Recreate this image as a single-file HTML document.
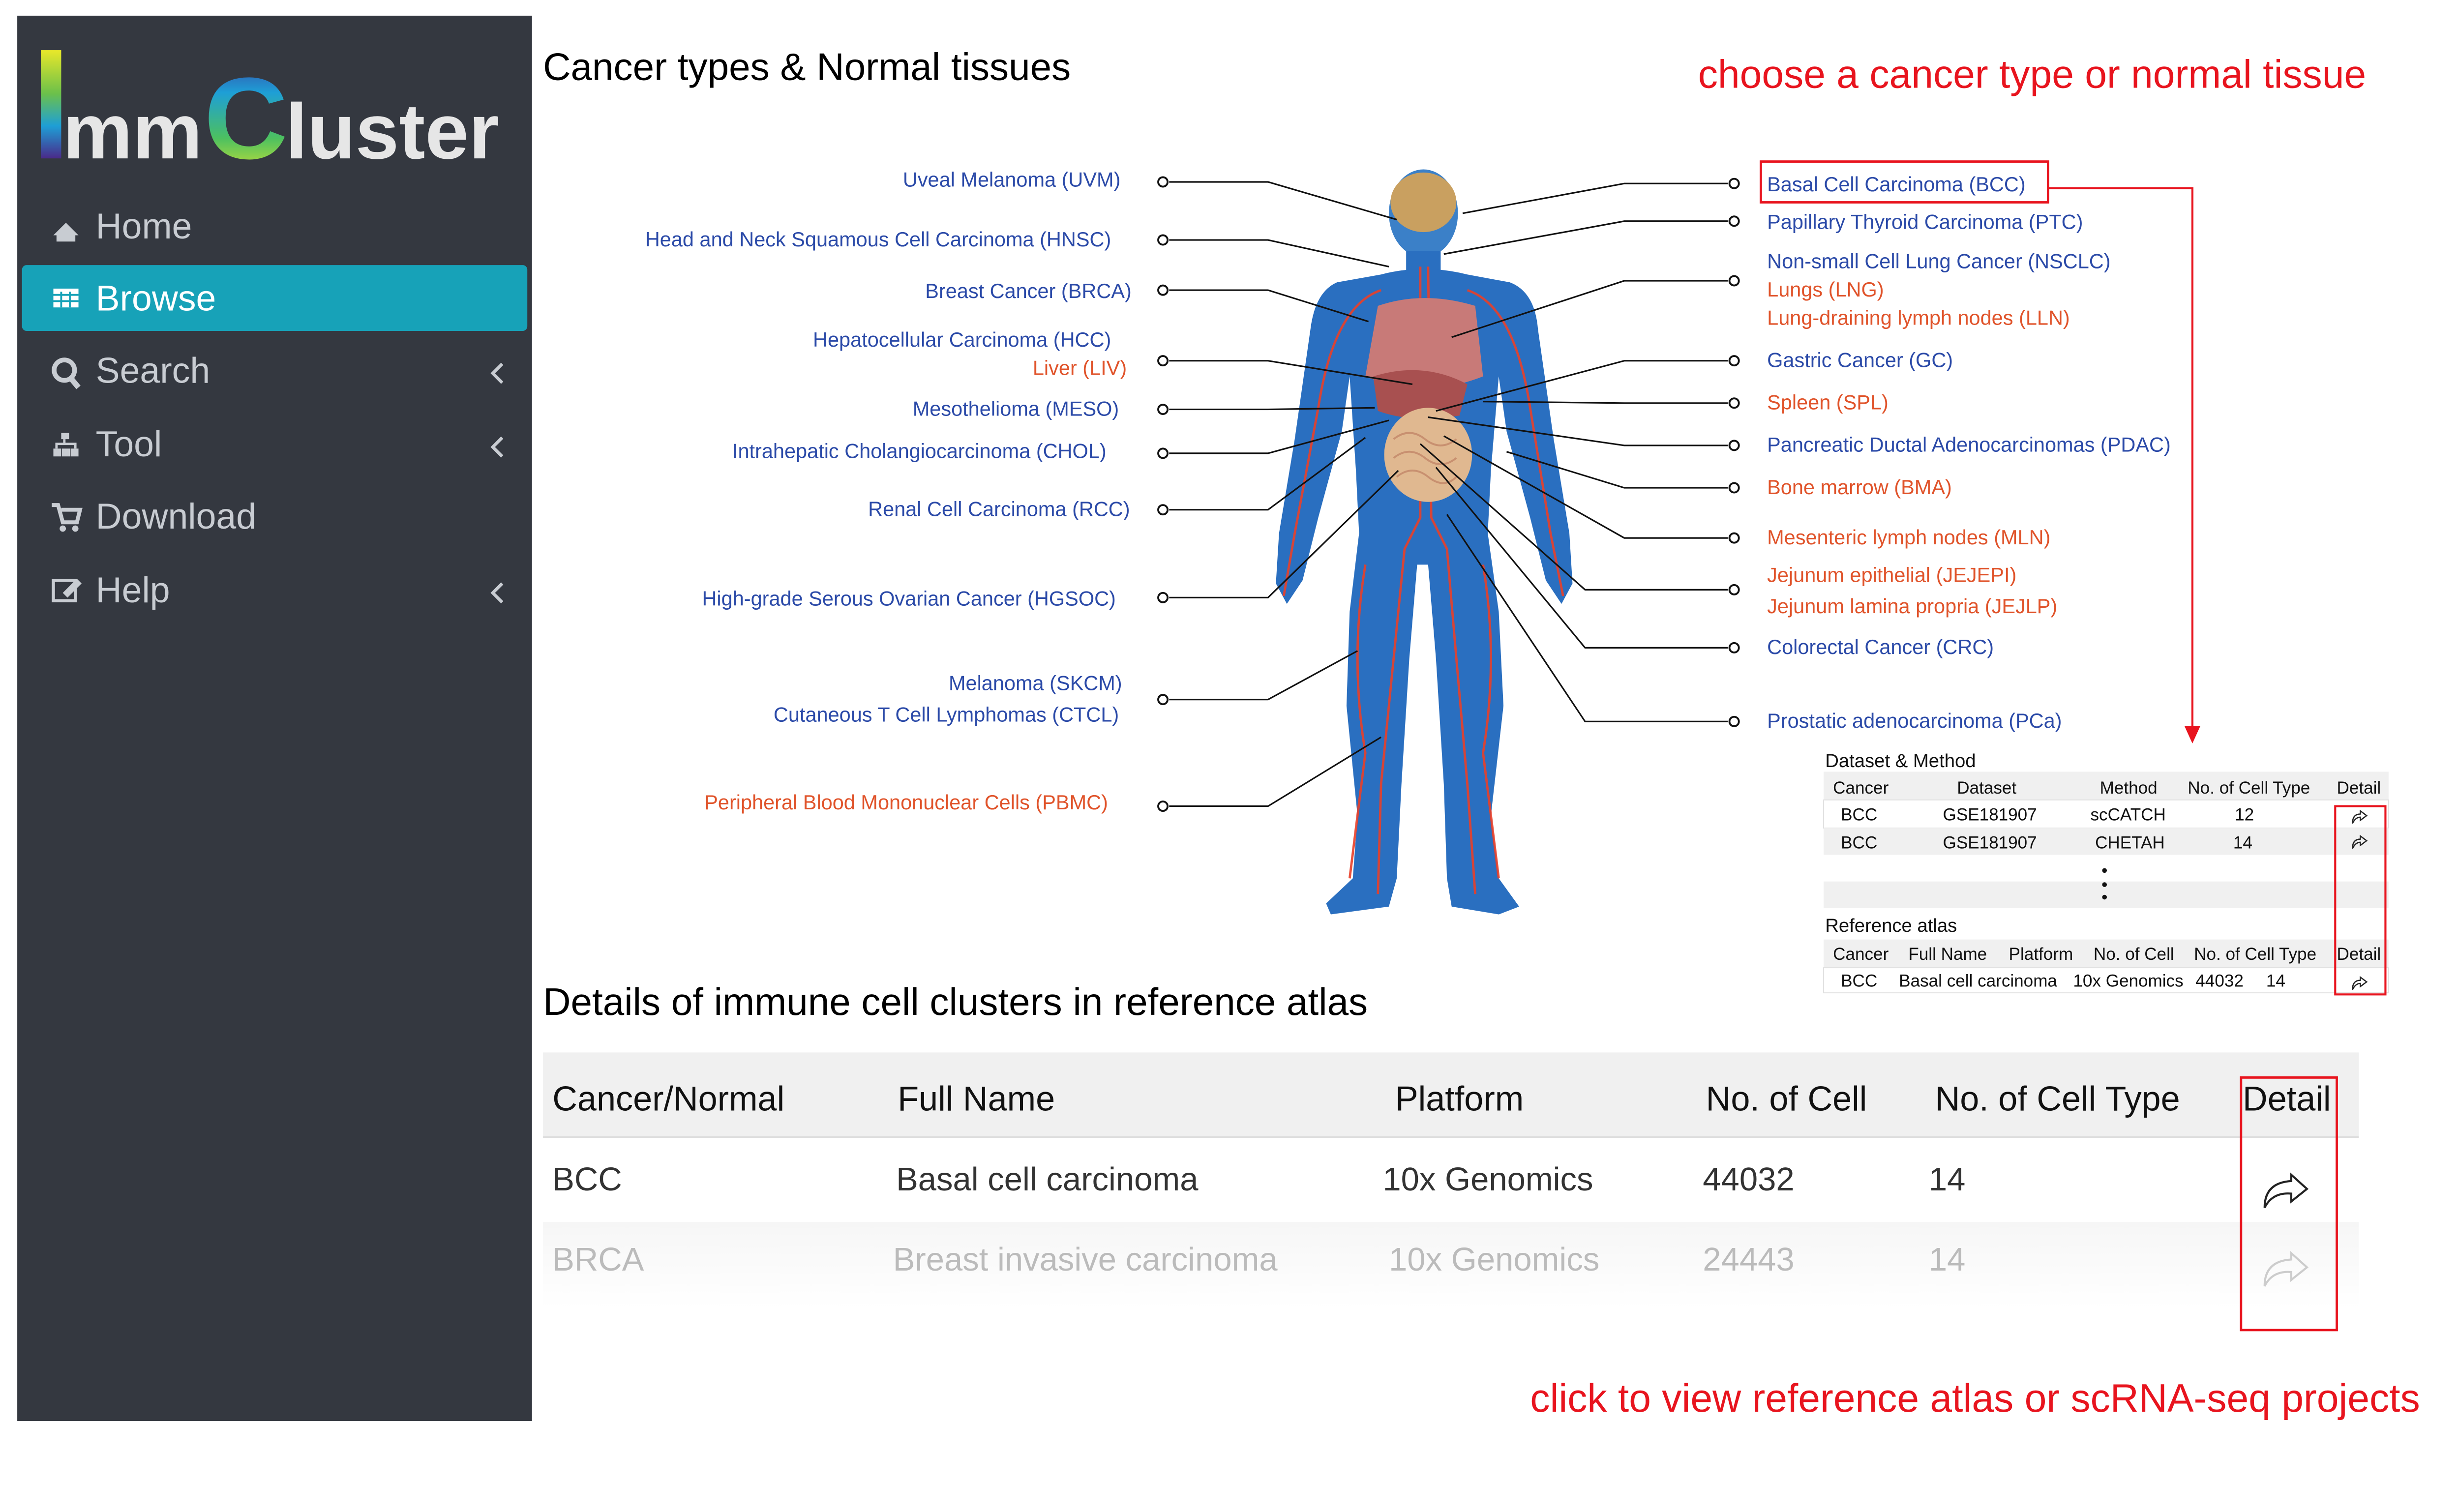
<!DOCTYPE html>
<html><head><meta charset="utf-8"><style>
html,body{margin:0;padding:0;background:#fff;}
svg{display:block;}
text{font-family:"Liberation Sans",Arial,sans-serif;}
</style></head><body>
<svg width="5144" height="3075" viewBox="0 0 1612 964" preserveAspectRatio="none" xmlns="http://www.w3.org/2000/svg">
<rect width="1612" height="964" fill="#fff"/>
<rect x="11" y="10" width="328" height="896" fill="#343840"/>
<defs>
<linearGradient id="gI" x1="0" y1="0" x2="0" y2="1"><stop offset="0" stop-color="#e8e82a"/><stop offset="0.4" stop-color="#6cc04a"/><stop offset="0.7" stop-color="#1e9fd6"/><stop offset="1" stop-color="#4a2a8a"/></linearGradient>
<linearGradient id="gC" x1="0" y1="0" x2="0" y2="1"><stop offset="0" stop-color="#3a3aa0"/><stop offset="0.3" stop-color="#1e9fd6"/><stop offset="0.65" stop-color="#4cc060"/><stop offset="1" stop-color="#e8e82a"/></linearGradient>
<linearGradient id="fade" x1="0" y1="0" x2="0" y2="1"><stop offset="0" stop-color="#f6f6f6"/><stop offset="1" stop-color="#fff"/></linearGradient>
</defs>
<rect x="26" y="32" width="13" height="69" fill="url(#gI)"/>
<text x="40" y="101" font-size="50" font-weight="bold" fill="#e6e6e6">mm</text>
<text x="130" y="101" font-size="74" font-weight="bold" fill="url(#gC)">C</text>
<text x="182" y="101" font-size="50" font-weight="bold" fill="#e6e6e6">luster</text>
<rect x="14" y="169" width="322" height="42" rx="3" fill="#17a2b8"/>
<g font-size="23" fill="#c8ccd2">
<text x="61" y="152">Home</text>
<text x="61" y="198" fill="#fff">Browse</text>
<text x="61" y="244">Search</text>
<text x="61" y="291">Tool</text>
<text x="61" y="337">Download</text>
<text x="61" y="384">Help</text>
</g>
<g fill="#c8ccd2">
<path d="M34 150 L42 142 L50 150 L48 150 L48 154 L36 154 L36 150Z"/>
<rect x="34" y="184" width="16" height="12" fill="#fff"/>
<g stroke="#17a2b8" stroke-width="1.2"><line x1="34" y1="188" x2="50" y2="188"/><line x1="34" y1="192" x2="50" y2="192"/><line x1="39" y1="186" x2="39" y2="196"/><line x1="44.5" y1="186" x2="44.5" y2="196"/></g>
<circle cx="41" cy="236" r="6.5" fill="none" stroke="#c8ccd2" stroke-width="3"/><line x1="45" y1="241" x2="50" y2="247" stroke="#c8ccd2" stroke-width="3.5"/>
<rect x="39" y="276" width="5" height="4"/><rect x="34" y="286" width="5" height="5"/><rect x="39.5" y="286" width="5" height="5"/><rect x="45" y="286" width="5" height="5"/><path d="M41 280v3M36 286v-3h12v3" stroke="#c8ccd2" fill="none" stroke-width="1.5"/>
<path d="M33 322h4l3 11h9l2-8h-12" fill="none" stroke="#c8ccd2" stroke-width="2.5"/><circle cx="40" cy="337" r="2"/><circle cx="48" cy="337" r="2"/>
<rect x="34" y="370" width="14" height="13" fill="none" stroke="#c8ccd2" stroke-width="2"/><path d="M40 378 L49 369 L52 372 L43 381Z"/>
</g>
<g fill="none" stroke="#c8ccd2" stroke-width="2"><path d="M320 232l-6 6 6 6"/><path d="M320 279l-6 6 6 6"/><path d="M320 372l-6 6 6 6"/></g>

<text x="346" y="51" font-size="24.5" fill="#000">Cancer types &amp; Normal tissues</text>
<text x="1082" y="56" font-size="25.2" fill="#e8141e">choose a cancer type or normal tissue</text>
<text x="346" y="647" font-size="24.5" fill="#000">Details of immune cell clusters in reference atlas</text>
<text x="975" y="900" font-size="25.2" fill="#e8141e">click to view reference atlas or scRNA-seq projects</text>

<g fill="#2a6fc0">
<ellipse cx="907" cy="136" rx="22" ry="28" fill="#3b80c8"/>
<rect x="896" y="160" width="22" height="20"/>
<path d="M880 175 Q907 168 935 175 L962 180 Q978 186 980 210 L990 280 L1000 340 L1002 372 L995 385 L985 370 L975 330 L960 275 L955 240 L950 300 L948 340 L955 390 L958 450 L950 520 L955 560 L968 578 L955 583 L925 578 L922 560 L920 500 L915 420 L910 360 L903 360 L898 420 L893 500 L890 560 L885 578 L848 583 L845 576 L862 560 L865 520 L858 450 L860 390 L866 340 L864 300 L860 240 L855 275 L840 330 L830 370 L820 385 L813 372 L815 340 L825 280 L835 210 Q838 186 852 180Z"/>
</g>
<g fill="none" stroke="#e8402a" stroke-width="1.5" opacity="0.9">
<path d="M905 170 L905 330 L895 350 L888 420 L880 500 L878 570"/>
<path d="M910 170 L912 330 L922 350 L928 420 L935 500 L940 570"/>
<path d="M880 185 Q850 195 840 260 L825 340 L818 380"/>
<path d="M935 185 Q965 195 975 260 L988 340 L996 380"/>
<path d="M870 360 Q860 420 870 480 L860 560"/><path d="M945 360 Q955 420 945 480 L955 560"/>
</g>
<ellipse cx="907" cy="129" rx="21" ry="19" fill="#c9a060"/>
<path d="M878 195 Q907 185 940 195 L945 240 Q907 255 870 240Z" fill="#c87a78"/>
<path d="M875 240 Q907 230 935 245 L930 265 Q900 270 878 262Z" fill="#a85050"/>
<ellipse cx="910" cy="290" rx="28" ry="30" fill="#e0b890"/>
<g fill="none" stroke="#c89070" stroke-width="1.2"><path d="M888 280 q10 -8 20 0 t20 0"/><path d="M888 292 q10 -8 20 0 t20 0"/><path d="M890 304 q10 -8 20 0 t18 0"/></g>

<g stroke="#111" stroke-width="1" fill="none">
<polyline points="745,116 808,116 890,140"/>
<polyline points="745,153 808,153 885,170"/>
<polyline points="745,185 808,185 872,205"/>
<polyline points="745,230 808,230 900,245"/>
<polyline points="745,261 808,261 876,260"/>
<polyline points="745,289 808,289 885,268"/>
<polyline points="745,325 808,325 870,279"/>
<polyline points="745,381 808,381 891,300"/>
<polyline points="745,446 808,446 865,415"/>
<polyline points="745,514 808,514 880,470"/>
<polyline points="1101,117 1035,117 932,136"/>
<polyline points="1101,141 1035,141 920,162"/>
<polyline points="1101,179 1035,179 925,215"/>
<polyline points="1101,230 1035,230 915,262"/>
<polyline points="1101,257 1035,257 945,256"/>
<polyline points="1101,284 1035,284 910,266"/>
<polyline points="1101,311 1035,311 960,288"/>
<polyline points="1101,343 1035,343 920,278"/>
<polyline points="1101,376 1010,376 905,283"/>
<polyline points="1101,413 1010,413 915,298"/>
<polyline points="1101,460 1010,460 922,328"/>
</g>
<g fill="#fff" stroke="#111" stroke-width="1.2">
<circle cx="741" cy="116" r="3"/><circle cx="741" cy="153" r="3"/><circle cx="741" cy="185" r="3"/><circle cx="741" cy="230" r="3"/><circle cx="741" cy="261" r="3"/><circle cx="741" cy="289" r="3"/><circle cx="741" cy="325" r="3"/><circle cx="741" cy="381" r="3"/><circle cx="741" cy="446" r="3"/><circle cx="741" cy="514" r="3"/>
<circle cx="1105" cy="117" r="3"/><circle cx="1105" cy="141" r="3"/><circle cx="1105" cy="179" r="3"/><circle cx="1105" cy="230" r="3"/><circle cx="1105" cy="257" r="3"/><circle cx="1105" cy="284" r="3"/><circle cx="1105" cy="311" r="3"/><circle cx="1105" cy="343" r="3"/><circle cx="1105" cy="376" r="3"/><circle cx="1105" cy="413" r="3"/><circle cx="1105" cy="460" r="3"/>
</g>

<g font-size="13" text-anchor="end" fill="#2b4aa8">
<text x="714" y="119">Uveal Melanoma (UVM)</text>
<text x="708" y="157">Head and Neck Squamous Cell Carcinoma (HNSC)</text>
<text x="721" y="190">Breast Cancer (BRCA)</text>
<text x="708" y="221">Hepatocellular Carcinoma (HCC)</text>
<text x="718" y="239" fill="#e0532a">Liver (LIV)</text>
<text x="713" y="265">Mesothelioma (MESO)</text>
<text x="705" y="292">Intrahepatic Cholangiocarcinoma (CHOL)</text>
<text x="720" y="329">Renal Cell Carcinoma (RCC)</text>
<text x="711" y="386">High-grade Serous Ovarian Cancer (HGSOC)</text>
<text x="715" y="440">Melanoma (SKCM)</text>
<text x="713" y="460">Cutaneous T Cell Lymphomas (CTCL)</text>
<text x="706" y="516" fill="#e0532a">Peripheral Blood Mononuclear Cells (PBMC)</text>
</g>
<g font-size="13" fill="#2b4aa8">
<text x="1126" y="122">Basal Cell Carcinoma (BCC)</text>
<text x="1126" y="146">Papillary Thyroid Carcinoma (PTC)</text>
<text x="1126" y="171">Non-small Cell Lung Cancer (NSCLC)</text>
<text x="1126" y="189" fill="#e0532a">Lungs (LNG)</text>
<text x="1126" y="207" fill="#e0532a">Lung-draining lymph nodes (LLN)</text>
<text x="1126" y="234">Gastric Cancer (GC)</text>
<text x="1126" y="261" fill="#e0532a">Spleen (SPL)</text>
<text x="1126" y="288">Pancreatic Ductal Adenocarcinomas (PDAC)</text>
<text x="1126" y="315" fill="#e0532a">Bone marrow (BMA)</text>
<text x="1126" y="347" fill="#e0532a">Mesenteric lymph nodes (MLN)</text>
<text x="1126" y="371" fill="#e0532a">Jejunum epithelial (JEJEPI)</text>
<text x="1126" y="391" fill="#e0532a">Jejunum lamina propria (JEJLP)</text>
<text x="1126" y="417">Colorectal Cancer (CRC)</text>
<text x="1126" y="464">Prostatic adenocarcinoma (PCa)</text>
</g>
<rect x="1122" y="103" width="183" height="26" fill="none" stroke="#e8141e" stroke-width="1.5"/>
<polyline points="1305,120 1397,120 1397,466" fill="none" stroke="#e8141e" stroke-width="1.3"/>
<path d="M1392 463 L1397 474 L1402 463Z" fill="#e8141e"/>

<g font-size="11" fill="#111">
<text x="1163" y="489" font-size="12">Dataset &amp; Method</text>
<rect x="1162" y="492" width="360" height="18" fill="#f0f0f0"/>
<text x="1168" y="506">Cancer</text><text x="1247" y="506">Dataset</text><text x="1338" y="506">Method</text><text x="1394" y="506">No. of Cell Type</text><text x="1489" y="506">Detail</text>
<rect x="1162" y="510" width="360" height="18" fill="#fff" stroke="#e0e0e0" stroke-width="0.6"/>
<text x="1173" y="523">BCC</text><text x="1238" y="523">GSE181907</text><text x="1332" y="523">scCATCH</text><text x="1424" y="523">12</text>
<rect x="1162" y="528" width="360" height="17" fill="#f0f0f0"/>
<text x="1173" y="541">BCC</text><text x="1238" y="541">GSE181907</text><text x="1335" y="541">CHETAH</text><text x="1423" y="541">14</text>
<rect x="1162" y="562" width="360" height="17" fill="#f0f0f0"/>
<circle cx="1341" cy="555" r="1.5"/><circle cx="1341" cy="564" r="1.5"/><circle cx="1341" cy="572" r="1.5"/>
<text x="1163" y="594" font-size="12">Reference atlas</text>
<rect x="1162" y="599" width="360" height="18" fill="#f0f0f0"/>
<text x="1168" y="612">Cancer</text><text x="1216" y="612">Full Name</text><text x="1280" y="612">Platform</text><text x="1334" y="612">No. of Cell</text><text x="1398" y="612">No. of Cell Type</text><text x="1489" y="612">Detail</text>
<rect x="1162" y="617" width="360" height="16" fill="#fff" stroke="#e0e0e0" stroke-width="0.6"/>
<text x="1173" y="629">BCC</text><text x="1210" y="629">Basal cell carcinoma</text><text x="1321" y="629">10x Genomics</text><text x="1399" y="629">44032</text><text x="1444" y="629">14</text>
</g>
<g fill="none" stroke="#222" stroke-width="0.8">
<path d="M1499 525 Q1499 519 1504 519 L1504 517 L1508 520 L1504 523 L1504 521 Q1501 521 1499 525Z"/>
<path d="M1499 541 Q1499 535 1504 535 L1504 533 L1508 536 L1504 539 L1504 537 Q1501 537 1499 541Z"/>
<path d="M1499 631 Q1499 625 1504 625 L1504 623 L1508 626 L1504 629 L1504 627 Q1501 627 1499 631Z"/>
</g>
<rect x="1488" y="514" width="32" height="120" fill="none" stroke="#e8141e" stroke-width="1.3"/>

<rect x="346" y="671" width="1157" height="54" fill="#f0f0f0"/>
<line x1="346" y1="725" x2="1503" y2="725" stroke="#ddd"/>
<rect x="346" y="779" width="1157" height="55" fill="url(#fade)"/>
<g font-size="22" fill="#111">
<text x="352" y="708">Cancer/Normal</text><text x="572" y="708">Full Name</text><text x="889" y="708">Platform</text><text x="1087" y="708">No. of Cell</text><text x="1233" y="708">No. of Cell Type</text><text x="1429" y="708">Detail</text>
</g>
<g font-size="21" fill="#333">
<text x="352" y="759">BCC</text><text x="571" y="759">Basal cell carcinoma</text><text x="881" y="759">10x Genomics</text><text x="1085" y="759">44032</text><text x="1229" y="759">14</text>
</g>
<g font-size="21" fill="#bbb">
<text x="352" y="810">BRCA</text><text x="569" y="810">Breast invasive carcinoma</text><text x="885" y="810">10x Genomics</text><text x="1085" y="810">24443</text><text x="1229" y="810">14</text>
</g>
<path d="M1443 770 Q1443 754 1460 753 L1460 749 L1470 758 L1460 766 L1460 761 Q1448 760 1443 770Z" fill="none" stroke="#222" stroke-width="1.3"/>
<path d="M1443 820 Q1443 804 1460 803 L1460 799 L1470 808 L1460 816 L1460 811 Q1448 810 1443 820Z" fill="none" stroke="#ccc" stroke-width="1.3"/>
<rect x="1428" y="687" width="61" height="161" fill="none" stroke="#e8141e" stroke-width="1.5"/>
</svg>
</body></html>
